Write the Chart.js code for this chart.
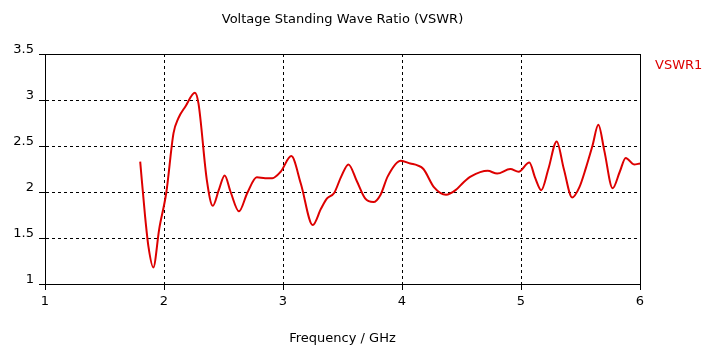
<!DOCTYPE html>
<html>
<head>
<meta charset="utf-8">
<script src="https://cdn.jsdelivr.net/npm/chart.js@4/dist/chart.umd.min.js"></script>
<style>
    body { margin: 0; background: #fff; }
    #divGraph { width: 708px; height: 349px; }
</style>
</head>
<body>
<div id="divGraph"><canvas id="canvGraph" width="708" height="349"></canvas></div>
<script>
var chartTitle = 'Voltage Standing Wave Ratio (VSWR)';
var seriesName = 'VSWR1';
var xTitle = 'Frequency / GHz';

// frequency in GHz
var freqGHz = [1.80, 1.84, 1.87, 1.91, 1.96, 2.02, 2.08, 2.12, 2.18, 2.26,
    2.29, 2.36, 2.41, 2.46, 2.51, 2.56, 2.63, 2.70, 2.78, 2.85,
    2.91, 2.98, 3.07, 3.15, 3.25, 3.32, 3.37, 3.43, 3.49, 3.55,
    3.62, 3.69, 3.76, 3.82, 3.88, 3.99, 4.07, 4.13, 4.18, 4.27,
    4.37, 4.45, 4.52, 4.58, 4.72, 4.80, 4.91, 4.98, 5.07, 5.12,
    5.17, 5.23, 5.30, 5.36, 5.43, 5.49, 5.545, 5.60, 5.65, 5.70,
    5.77, 5.83, 5.88, 5.95, 6.00];

var vswr = [2.33, 1.75, 1.40, 1.18, 1.60, 2.00, 2.64, 2.80, 2.93, 3.08,
    2.96, 2.13, 1.85, 2.02, 2.18, 2.00, 1.79, 1.99, 2.16, 2.15,
    2.15, 2.22, 2.39, 2.09, 1.64, 1.82, 1.93, 1.99, 2.17, 2.30,
    2.12, 1.93, 1.89, 1.97, 2.17, 2.34, 2.31, 2.29, 2.25, 2.05,
    1.97, 2.02, 2.11, 2.17, 2.23, 2.20, 2.25, 2.22, 2.32, 2.15,
    2.02, 2.25, 2.55, 2.25, 1.94, 2.05, 2.26, 2.50, 2.73, 2.45,
    2.04, 2.22, 2.37, 2.30, 2.31];

var xTicks = [1, 2, 3, 4, 5, 6];
var yTicks = [1, 1.5, 2, 2.5, 3, 3.5];

var _font = 'DejaVu Sans';
var _fontSize = 13;

// last grid line of each axis is part of the frame, so keep it solid
function dashFor(ticks) {
    return function (ctx) {
        if (ctx.tick && ctx.tick.value === ticks[ticks.length - 1]) {
            return [];
        }
        return [3, 3];
    };
}

function plainLabel(value) {
    return String(value);
}

var captionPlugin = {
    id: 'caption',
    afterDraw: function (chart) {
        var c = chart.ctx, area = chart.chartArea;
        c.save();
        c.font = _fontSize + 'px ' + _font;
        c.textBaseline = 'middle';
        c.fillStyle = '#000';
        c.textAlign = 'center';
        c.fillText(chartTitle, (area.left + area.right) / 2, 20);
        c.textAlign = 'left';
        c.fillStyle = chart.data.datasets[0].borderColor;
        c.fillText(chart.data.datasets[0].label, area.right + 15, 66);
        c.restore();
    }
};

function buildChart(points) {
    var ctx = document.getElementById('canvGraph').getContext('2d');

    new Chart(ctx, {
        type: 'line',
        data: {
            datasets: [{
                label: seriesName,
                data: points,
                borderColor: '#dd0000',
                borderWidth: 2,
                pointRadius: 0,
                fill: false,
                cubicInterpolationMode: 'monotone'
            }]
        },
        options: {
            responsive: false,
            animation: false,
            layout: {padding: {top: 54, right: 68, left: 0, bottom: 0}},
            plugins: {
                legend: {display: false},
                title: {display: false},
                tooltip: {enabled: false}
            },
            scales: {
                x: {
                    type: 'linear',
                    min: xTicks[0],
                    max: xTicks[xTicks.length - 1],
                    afterFit: function (scale) { scale.height = 65; },
                    afterBuildTicks: function (scale) {
                        scale.ticks = xTicks.map(function (v) { return {value: v}; });
                    },
                    ticks: {
                        color: '#000',
                        font: {family: _font, size: _fontSize},
                        padding: 4,
                        maxRotation: 0,
                        callback: plainLabel
                    },
                    grid: {color: '#000', lineWidth: 1, tickLength: 6, tickColor: '#000'},
                    border: {color: '#000', width: 1, dash: dashFor(xTicks)},
                    title: {
                        display: true,
                        text: xTitle,
                        color: '#000',
                        font: {family: _font, size: _fontSize},
                        padding: {top: 0, bottom: 3}
                    }
                },
                y: {
                    type: 'linear',
                    min: yTicks[0],
                    max: yTicks[yTicks.length - 1],
                    afterFit: function (scale) { scale.width = 45; },
                    afterBuildTicks: function (scale) {
                        scale.ticks = yTicks.map(function (v) { return {value: v}; });
                    },
                    ticks: {
                        color: '#000',
                        font: {family: _font, size: _fontSize},
                        padding: 5,
                        labelOffset: -4,
                        callback: plainLabel
                    },
                    grid: {color: '#000', lineWidth: 1, tickLength: 6, tickColor: '#000'},
                    border: {color: '#000', width: 1, dash: dashFor(yTicks)}
                }
            }
        },
        plugins: [captionPlugin]
    });
}

function init() {
    var points = [];
    for (var i = 0; i < freqGHz.length; i++) {
        points.push({x: freqGHz[i], y: vswr[i]});
    }
    buildChart(points);
}

init();
</script>
</body>
</html>
